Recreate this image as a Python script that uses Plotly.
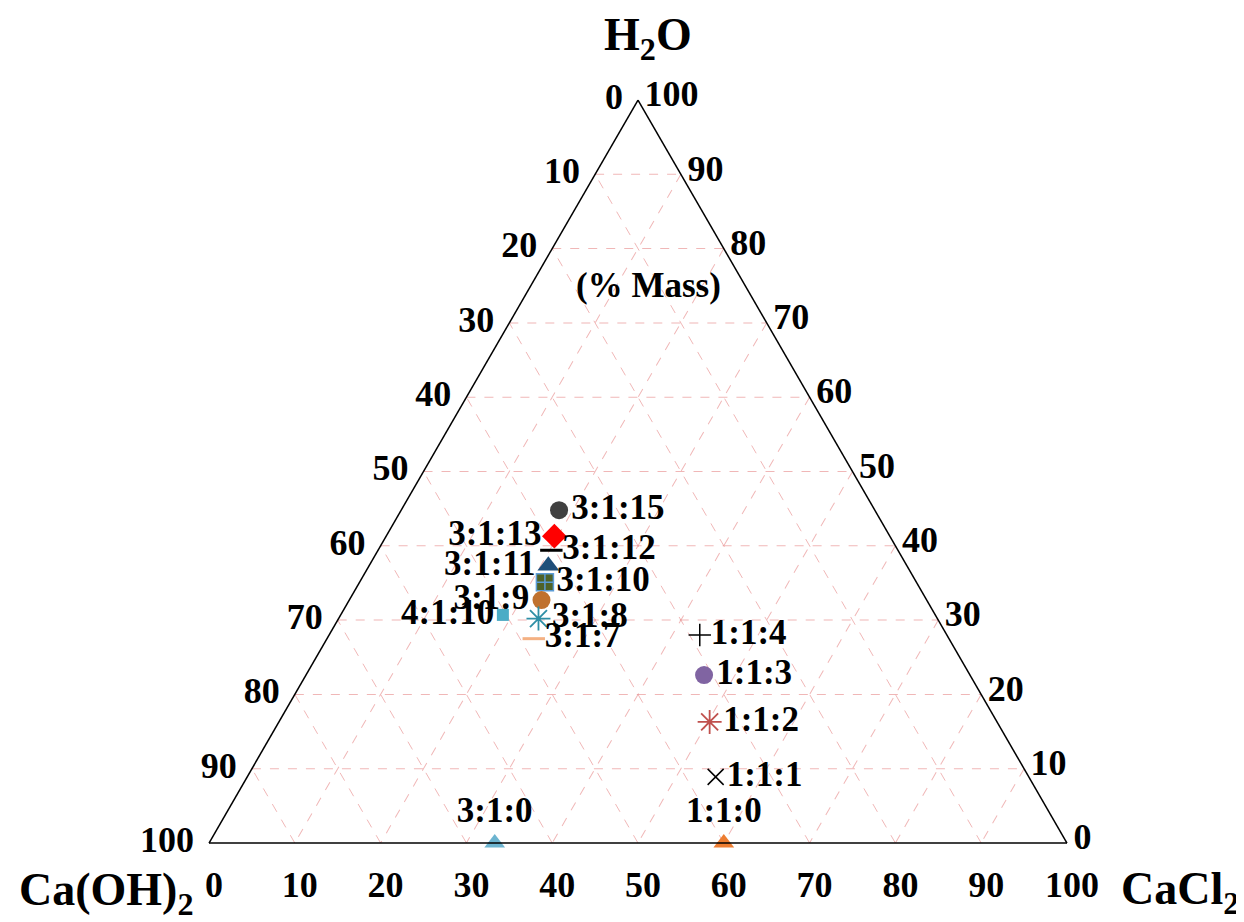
import plotly.graph_objects as go

# ---- data (mass %) ----
labels = ["3:1:15", "3:1:13", "3:1:12", "3:1:11", "3:1:10", "3:1:9", "3:1:8",
          "4:1:10", "3:1:7", "1:1:4", "1:1:3", "1:1:2", "1:1:1", "1:1:0", "3:1:0"]
h2o = [44.8, 41.3, 39.4, 37.3, 35.1, 32.7, 30.2, 30.7, 27.5, 28.0, 22.6, 16.3, 8.9, 0.0, 0.0]
caoh2 = [36.8, 39.1, 40.4, 41.8, 43.3, 44.9, 46.5, 50.4, 48.4, 28.8, 31.0, 33.5, 36.5, 40.0, 66.7]
cacl2 = [18.4, 19.6, 20.2, 20.9, 21.6, 22.4, 23.3, 18.9, 24.1, 43.2, 46.4, 50.2, 54.6, 60.0, 33.3]

tick_values = [0, 10, 20, 30, 40, 50, 60, 70, 80, 90, 100]
tick_labels = ["100", "90", "80", "70", "60", "50", "40", "30", "20", "10", "0"]

# ---- styles ----
symbols = ["circle", "diamond", "line-ew", "triangle-up", "square-cross", "circle",
           "asterisk-open", "square", "line-ew", "cross-thin-open", "circle",
           "asterisk-open", "x-thin-open", "triangle-up", "triangle-up"]
colors = ["#404040", "#FF0000", "#000000", "#1F4E79", "#4F6228", "#C0712E",
          "#2E8FA6", "#4BACC6", "#F4B183", "#000000", "#8064A2",
          "#C0504D", "#000000", "#ED7D31", "#6CB4D0"]
line_colors = ["#404040", "#FF0000", "#000000", "#1F4E79", "#5B9BD5", "#C0712E",
               "#2E8FA6", "#4BACC6", "#F4B183", "#000000", "#8064A2",
               "#C0504D", "#000000", "#ED7D31", "#6CB4D0"]
line_widths = [0, 0, 3, 0, 1.5, 0, 1.8, 0, 3, 1.5, 0, 1.8, 1.5, 0, 0]
sizes = [18, 19, 16, 19, 17, 18, 20, 12, 16, 16, 18, 20, 16, 18, 18]
positions = ["middle right", "middle left", "middle right", "middle left", "middle right",
             "middle left", "middle right", "middle left", "middle right", "middle right",
             "middle right", "middle right", "middle right", "top center", "top center"]

serif = "Liberation Serif"
fig = go.Figure()
for i in range(len(labels)):
    fig.add_trace(go.Scatterternary(
        a=[h2o[i]], b=[caoh2[i]], c=[cacl2[i]],
        mode="markers+text",
        text=[labels[i]],
        textposition=positions[i],
        textfont=dict(family=serif, size=35, color="black", weight="bold"),
        marker=dict(symbol=symbols[i], size=sizes[i], color=colors[i],
                    line=dict(color=line_colors[i], width=line_widths[i])),
        cliponaxis=False,
        showlegend=False,
    ))

axis_common = dict(
    tickmode="array", tickvals=tick_values, ticktext=tick_labels,
    showgrid=True, gridcolor="rgba(230,135,135,0.6)", griddash="dash", gridwidth=1,
    showline=True, linecolor="black", linewidth=1.5,
    ticks="outside", ticklen=10, tickcolor="rgba(0,0,0,0)",
    tickfont=dict(family=serif, size=36, color="black", weight="bold"),
    title=dict(text=""),
)
c_axis = dict(axis_common, ticklen=3)

W, H = 1244, 922
ann_font = dict(family=serif, size=46, color="black", weight="bold")
fig.update_layout(
    width=W, height=H,
    margin=dict(l=0, r=0, t=0, b=0),
    paper_bgcolor="white",
    showlegend=False,
    ternary=dict(
        sum=100,
        bgcolor="white",
        domain=dict(x=[201 / W, 1059 / W], y=[87 / H, 830 / H]),
        aaxis=axis_common,
        baxis=axis_common,
        caxis=c_axis,
    ),
    annotations=[
        dict(text="H<sub>2</sub>O", x=640 / W, y=1 - 30 / H, xref="paper", yref="paper",
             xanchor="center", yanchor="middle", showarrow=False,
             font=dict(family=serif, size=46, color="black", weight="bold")),
        dict(text="Ca(OH)<sub>2</sub>", x=98 / W, y=1 - 885 / H, xref="paper", yref="paper",
             xanchor="center", yanchor="middle", showarrow=False, font=ann_font),
        dict(text="CaCl<sub>2</sub>", x=1172 / W, y=1 - 884 / H, xref="paper", yref="paper",
             xanchor="center", yanchor="middle", showarrow=False, font=ann_font),
        dict(text="(% Mass)", x=640 / W, y=1 - 277 / H, xref="paper", yref="paper",
             xanchor="center", yanchor="middle", showarrow=False,
             font=dict(family=serif, size=35, color="black", weight="bold")),
    ],
)

fig.write_html("out.html")
